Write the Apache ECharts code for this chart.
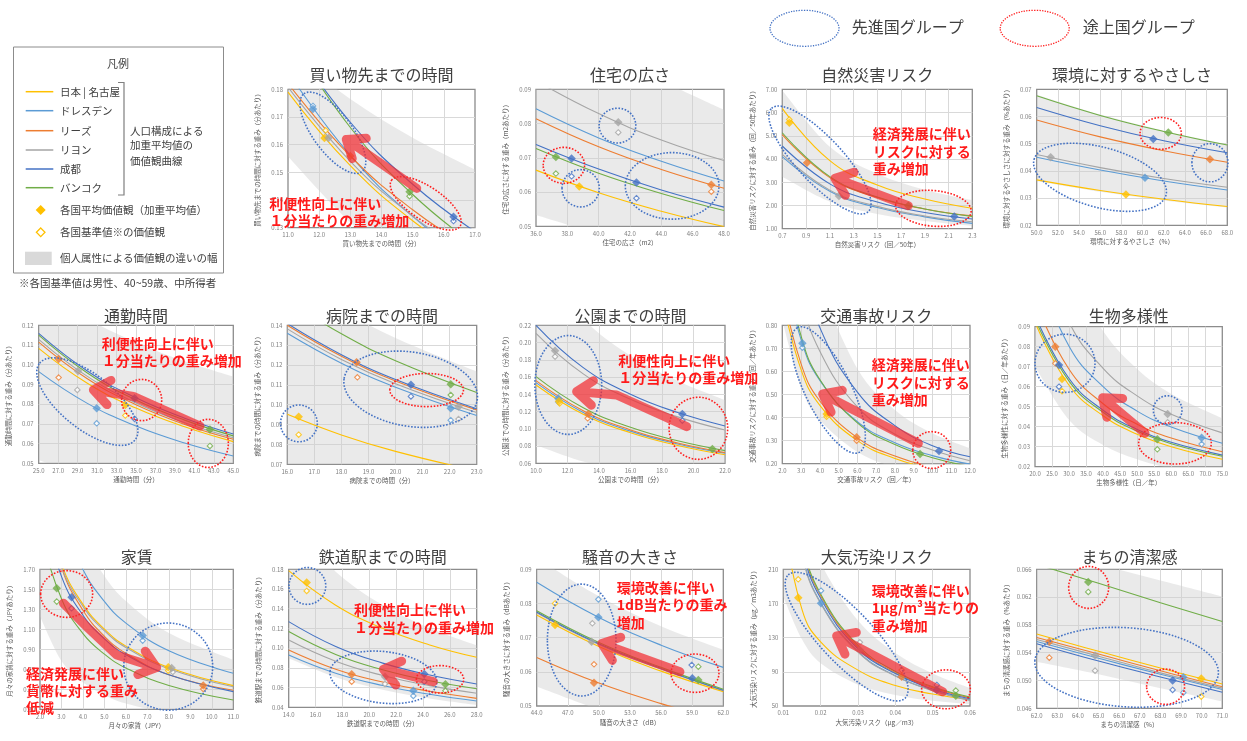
<!DOCTYPE html>
<html><head><meta charset="utf-8">
<script src="https://cdn.jsdelivr.net/npm/echarts@6/dist/echarts.min.js"></script>
<style>html,body{margin:0;padding:0;background:#fff}#c{width:1247px;height:741px}</style>
</head><body><div id="c"></div>
<script>
// ================= DATA =================
const cityNames = ['日本 | 名古屋', 'ドレスデン', 'リーズ', 'リヨン', '成都', 'バンコク'];
// curve order in every panel: 日本|名古屋, ドレスデン, リーズ, リヨン, 成都, バンコク
// points: [x, y, cityIndex]

// --- 買い物先までの時間 ---
const shopText = ['買い物先までの時間', '買い物先までの時間（分）', '買い物先までの時間に対する重み（分あたり）'];
const shopTicks = [11, 17, 1, 1, 0.13, 0.18, 0.01, 2];
const shopX = [11, 13, 15, 17];
const shopCurves = [
  [0.1790, 0.1524, 0.1325, 0.1174],
  [0.1862, 0.1561, 0.1341, 0.1174],
  [0.1821, 0.1559, 0.1365, 0.1215],
  [0.1808, 0.1540, 0.1342, 0.1189],
  [0.1987, 0.1681, 0.1457, 0.1286],
  [0.1996, 0.1662, 0.1420, 0.1237]];
const shopBandHi = [0.194, 0.1765, 0.1625, 0.151];
const shopBandLo = [0.1557, 0.1319, 0.1145, 0.1012];
const shopAvg = [[12.17, 0.1624, 0], [11.80, 0.1729, 1], [13.0, 0.1559, 2], [12.30, 0.1624, 3], [16.31, 0.1340, 4], [14.90, 0.1430, 5]];
const shopBase = [[12.21, 0.1652, 0], [11.80, 0.1740, 1], [16.31, 0.1324, 4], [14.90, 0.1414, 5]];

// --- 住宅の広さ ---
const houseText = ['住宅の広さ', '住宅の広さ（m2）', '住宅の広さに対する重み（m2あたり）'];
const houseTicks = [36, 48, 2, 1, 0.05, 0.09, 0.01, 2];
const houseX = [36, 40, 44, 48];
const houseCurves = [
  [0.0664, 0.0598, 0.0544, 0.0499],
  [0.0843, 0.0758, 0.0690, 0.0632],
  [0.0814, 0.0732, 0.0666, 0.0611],
  [0.0925, 0.0829, 0.0752, 0.0692],
  [0.0739, 0.0667, 0.0606, 0.0556],
  [0.0727, 0.0655, 0.0596, 0.0546]];
const houseBandHi = [0.112, 0.1015, 0.0925, 0.084];
const houseBandLo = [0.0533, 0.0478, 0.0435, 0.040];
const houseAvg = [[37.27, 0.0702, 5], [38.27, 0.0698, 4], [38.76, 0.0616, 0], [41.25, 0.0804, 3], [42.41, 0.0628, 4], [47.19, 0.0621, 2]];
const houseBase = [[37.27, 0.0654, 5], [38.27, 0.0646, 4], [41.25, 0.0774, 3], [42.41, 0.0582, 4], [47.19, 0.0601, 2]];

// --- 自然災害リスク ---
const disasterText = ['自然災害リスク', '自然災害リスク（回／50年）', '自然災害リスクに対する重み（回／50年あたり）'];
const disasterTicks = [0.7, 2.3, 0.2, 1, 1, 7, 1, 2];
const disasterX = [0.7, 1.1, 1.5, 1.9, 2.3];
const disasterCurves = [
  [6.18, 3.93, 2.88, 2.28, 1.88],
  [4.10, 2.61, 1.91, 1.51, 1.23],
  [5.05, 3.20, 2.34, 1.85, 1.55],
  [4.20, 2.66, 1.96, 1.55, 1.30],
  [4.56, 2.93, 2.15, 1.70, 1.42],
  [5.13, 3.24, 2.36, 1.85, 1.53]];
const disasterBandHi = [6.95, 4.53, 3.37, 2.68, 2.23];
const disasterBandLo = [3.24, 2.17, 1.63, 1.33, 1.12];
const disasterAvg = [[0.759, 5.56, 0], [0.908, 3.84, 2], [1.177, 2.41, 3], [1.761, 1.99, 5], [2.148, 1.53, 4]];
const disasterBase = [[0.759, 5.70, 0]];

// --- 環境に対するやさしさ ---
const ecoText = ['環境に対するやさしさ', '環境に対するやさしさ（%）', '環境に対するやさしさに対する重み（%あたり）'];
const ecoTicks = [50, 68, 2, 1, 0.02, 0.07, 0.01, 2];
const ecoX = [50, 56, 62, 68];
const ecoCurves = [
  [0.0367, 0.0328, 0.0296, 0.0269],
  [0.0450, 0.0403, 0.0363, 0.0330],
  [0.0587, 0.0525, 0.0474, 0.0432],
  [0.0460, 0.0412, 0.0372, 0.0340],
  [0.0633, 0.0566, 0.0511, 0.0467],
  [0.0676, 0.0604, 0.0545, 0.0495]];
const ecoBandHi = [0.0680, 0.0607, 0.0548, 0.0498];
const ecoBandLo = [0.0362, 0.0323, 0.0291, 0.0265];
const ecoAvg = [[51.32, 0.0450, 3], [58.43, 0.0313, 0], [60.23, 0.0375, 1], [61.01, 0.0517, 4], [62.43, 0.0541, 5], [66.36, 0.0443, 2]];
const ecoBase = [];

// --- 通勤時間 ---
const commuteText = ['通勤時間', '通勤時間（分）', '通勤時間に対する重み（分あたり）'];
const commuteTicks = [25, 45, 2, 1, 0.05, 0.12, 0.01, 2];
const commuteX = [25, 30, 35, 40, 45];
const commuteCurves = [
  [0.1083, 0.0906, 0.0780, 0.0685, 0.0610],
  [0.0965, 0.0804, 0.0689, 0.0603, 0.0537],
  [0.1115, 0.0929, 0.0797, 0.0697, 0.0622],
  [0.1129, 0.0941, 0.0806, 0.0706, 0.0630],
  [0.1159, 0.0968, 0.0832, 0.0729, 0.0649],
  [0.1150, 0.0958, 0.0821, 0.0719, 0.0639]];
const commuteBandHi = [0.1394, 0.1234, 0.1113, 0.1018, 0.094];
const commuteBandLo = [0.0517, 0.0431, 0.0369, 0.0323, 0.0287];
const commuteAvg = [[27.05, 0.1029, 2], [29.04, 0.0968, 3], [30.96, 0.0779, 1], [33.90, 0.0796, 0], [34.86, 0.0830, 4], [42.60, 0.0672, 5]];
const commuteBase = [[27.05, 0.0935, 2], [28.97, 0.0872, 3], [30.96, 0.0703, 1], [33.90, 0.0742, 0], [34.86, 0.0725, 4], [42.60, 0.0588, 5]];

// --- 病院までの時間 ---
const hospitalText = ['病院までの時間', '病院までの時間（分）', '病院までの時間に対する重み（分あたり）'];
const hospitalTicks = [16, 23, 1, 1, 0.07, 0.14, 0.01, 2];
const hospitalX = [16, 18, 20, 23];
const hospitalCurves = [
  [0.0952, 0.0848, 0.0765, 0.0667],
  [0.1360, 0.1209, 0.1088, 0.0946],
  [0.1400, 0.1244, 0.1120, 0.0974],
  [0.1382, 0.1228, 0.1106, 0.0961],
  [0.1409, 0.1252, 0.1127, 0.0980],
  [0.1527, 0.1357, 0.1222, 0.1062]];
const hospitalBandHi = [0.1667, 0.1480, 0.1336, 0.1167];
const hospitalBandLo = [0.065, 0.058, 0.052, 0.045];
const hospitalAvg = [[16.42, 0.0940, 0], [18.56, 0.1214, 2], [20.57, 0.1100, 4], [22.04, 0.1103, 5], [22.04, 0.0982, 1], [22.33, 0.0990, 3]];
const hospitalBase = [[16.42, 0.0849, 0], [18.59, 0.1138, 2], [20.57, 0.1042, 4], [22.04, 0.1049, 5], [22.04, 0.0922, 1], [22.33, 0.0928, 3]];

// --- 公園までの時間 ---
const parkText = ['公園までの時間', '公園までの時間（分）', '公園までの時間に対する重み（分あたり）'];
const parkTicks = [10, 22, 2, 1, 0.06, 0.22, 0.02, 2];
const parkX = [10, 13, 16, 19, 22];
const parkCurves = [
  [0.1508, 0.1168, 0.0954, 0.0807, 0.0700],
  [0.1535, 0.1190, 0.0973, 0.0824, 0.0716],
  [0.1558, 0.1208, 0.0987, 0.0836, 0.0724],
  [0.2107, 0.1637, 0.1342, 0.1138, 0.0986],
  [0.2200, 0.1709, 0.1401, 0.1188, 0.1033],
  [0.1605, 0.1244, 0.1017, 0.0861, 0.0747]];
const parkBandHi = [0.2955, 0.2273, 0.1847, 0.1555, 0.1334];
const parkBandLo = [0.0812, 0.0620, 0.0510, 0.0430, 0.0370];
const parkAvg = [[11.21, 0.1906, 3], [11.42, 0.1350, 1], [11.46, 0.1318, 0], [13.32, 0.1172, 2], [19.29, 0.1172, 4], [21.20, 0.0766, 5]];
const parkBase = [[11.21, 0.1837, 3], [11.42, 0.1310, 1], [11.50, 0.1295, 0], [13.28, 0.1122, 2], [19.29, 0.1095, 4]];

// --- 交通事故リスク ---
const trafficText = ['交通事故リスク', '交通事故リスク（回／年）', '交通事故リスクに対する重み（回／年あたり）'];
const trafficTicks = [2, 12, 1, 1, 0.2, 0.8, 0.1, 2];
const trafficX = [2, 3, 4, 6, 8, 10, 12];
const trafficCurves = [
  [0.920, 0.608, 0.453, 0.300, 0.223, 0.178, 0.148],
  [1.085, 0.738, 0.561, 0.382, 0.291, 0.235, 0.198],
  [0.957, 0.633, 0.472, 0.312, 0.233, 0.185, 0.154],
  [1.440, 0.934, 0.688, 0.446, 0.328, 0.259, 0.213],
  [1.660, 1.070, 0.790, 0.510, 0.365, 0.278, 0.230],
  [1.130, 0.754, 0.565, 0.377, 0.283, 0.226, 0.188]];
const trafficBandHi = [2.29, 1.41, 0.996, 0.612, 0.433, 0.3315, 0.2665];
const trafficBandLo = [0.82, 0.53, 0.389, 0.251, 0.184, 0.145, 0.12];
const trafficAvg = [[3.07, 0.722, 1], [4.36, 0.4154, 0], [5.96, 0.3142, 2], [9.34, 0.2420, 5], [10.35, 0.2550, 4]];
const trafficBase = [[3.07, 0.703, 1], [4.36, 0.404, 0], [5.96, 0.300, 2]];

// --- 生物多様性 ---
const bioText = ['生物多様性', '生物多様性（日／年）', '生物多様性に対する重み（日／年あたり）'];
const bioTicks = [20, 75, 5, 1, 0.02, 0.09, 0.01, 2];
const bioX = [20, 30, 40, 50, 60, 75];
const bioCurves = [
  [0.0923, 0.0607, 0.0455, 0.0362, 0.0300, 0.0237],
  [0.1215, 0.0802, 0.0600, 0.0478, 0.0398, 0.0317],
  [0.1030, 0.0687, 0.0515, 0.0412, 0.0343, 0.0275],
  [0.1385, 0.0923, 0.0692, 0.0554, 0.0462, 0.0369],
  [0.0957, 0.0641, 0.0482, 0.0386, 0.0322, 0.0258],
  [0.0940, 0.0628, 0.0472, 0.0378, 0.0315, 0.0252]];
const bioBandHi = [0.1868, 0.1202, 0.0878, 0.0688, 0.0564, 0.0442];
const bioBandLo = [0.0700, 0.0434, 0.0309, 0.0237, 0.0191, 0.0147];
const bioAvg = [[25.97, 0.0800, 2], [27.05, 0.0708, 4], [27.93, 0.0638, 0], [55.92, 0.0337, 5], [58.95, 0.0463, 3], [68.93, 0.0345, 1]];
const bioBase = [[25.97, 0.0717, 2], [27.05, 0.0600, 4], [27.93, 0.0578, 0], [55.92, 0.0287, 5], [58.95, 0.0422, 3], [68.93, 0.0313, 1]];

// --- 家賃 ---
const rentText = ['家賃', '月々の家賃（JPY）', '月々の家賃に対する重み（JPYあたり）'];
const rentTicks = [2, 11, 1, 1, 0.3, 1.7, 0.2, 2];
const rentX = [2, 3, 4, 5, 6, 8, 11];
const rentCurves = [
  [2.53, 1.752, 1.349, 1.101, 0.932, 0.717, 0.537],
  [3.24, 2.22, 1.699, 1.378, 1.162, 0.886, 0.66],
  [2.58, 1.72, 1.29, 1.03, 0.86, 0.645, 0.49],
  [2.49, 1.726, 1.329, 1.085, 0.918, 0.706, 0.525],
  [2.39, 1.629, 1.241, 1.005, 0.846, 0.645, 0.477],
  [2.09, 1.405, 1.057, 0.852, 0.713, 0.538, 0.393]];
const rentBandHi = [3.79, 2.61, 2.0, 1.634, 1.383, 1.062, 0.793];
const rentBandLo = [1.227, 0.782, 0.569, 0.444, 0.357, 0.264, 0.185];
const rentAvg = [[2.78, 1.51, 5], [3.47, 1.42, 4], [6.78, 1.037, 1], [7.97, 0.72, 0], [8.13, 0.713, 3], [9.60, 0.537, 2]];
const rentBase = [[2.78, 1.377, 5], [3.47, 1.31, 4], [6.78, 0.987, 1], [7.97, 0.687, 0], [8.18, 0.673, 3], [9.60, 0.503, 2]];

// --- 鉄道駅までの時間 ---
const stationText = ['鉄道駅までの時間', '鉄道駅までの時間（分）', '鉄道駅までの時間に対する重み（分あたり）'];
const stationTicks = [14, 28, 2, 1, 0.04, 0.18, 0.02, 2];
const stationX = [14, 17.5, 21, 24.5, 28];
const stationCurves = [
  [0.1786, 0.1436, 0.1201, 0.1033, 0.0907],
  [0.0931, 0.0746, 0.0621, 0.0532, 0.0464],
  [0.0982, 0.0787, 0.0656, 0.0562, 0.0491],
  [0.1083, 0.0868, 0.0723, 0.0620, 0.0542],
  [0.1269, 0.1017, 0.0848, 0.0727, 0.0637],
  [0.1168, 0.0936, 0.0781, 0.0669, 0.0589]];
const stationBandHi = [0.230, 0.1776, 0.1437, 0.1202, 0.1029];
const stationBandLo = [0.0897, 0.0705, 0.0579, 0.0490, 0.0424];
const stationAvg = [[15.34, 0.1665, 0], [18.69, 0.0735, 2], [21.17, 0.0711, 3], [23.28, 0.0569, 1], [24.10, 0.0738, 4], [25.67, 0.0633, 5]];
const stationBase = [[15.34, 0.158, 0], [18.69, 0.066, 2], [21.17, 0.0637, 3], [23.28, 0.0515, 1], [24.10, 0.066, 4], [25.67, 0.0567, 5]];

// --- 騒音の大きさ ---
const noiseText = ['騒音の大きさ', '騒音の大きさ（dB）', '騒音の大きさに対する重み（dBあたり）'];
const noiseTicks = [44, 62, 3, 1, 0.05, 0.09, 0.01, 2];
const noiseX = [44, 50, 56, 62];
const noiseCurves = [
  [0.0766, 0.0674, 0.0602, 0.0542],
  [0.0862, 0.0759, 0.0678, 0.0613],
  [0.0642, 0.0567, 0.0507, 0.0457],
  [0.0773, 0.0680, 0.0608, 0.0545],
  [0.0775, 0.0682, 0.0610, 0.0546],
  [0.0779, 0.0686, 0.0613, 0.0549]];
const noiseBandHi = [0.0933, 0.0821, 0.0733, 0.0664];
const noiseBandLo = [0.0557, 0.0490, 0.0438, 0.0396];
const noiseAvg = [[45.77, 0.0737, 0], [49.30, 0.0688, 3], [49.53, 0.0568, 2], [49.95, 0.0760, 1], [59.01, 0.0581, 4], [59.59, 0.0576, 5]];
const noiseBase = [[45.77, 0.0800, 0], [49.37, 0.0742, 3], [49.53, 0.0622, 2], [49.95, 0.0812, 1], [58.95, 0.0620, 4], [59.59, 0.0615, 5]];

// --- 大気汚染リスク ---
const airText = ['大気汚染リスク', '大気汚染リスク（μg／m3）', '大気汚染リスクに対する重み（μg／m3あたり）'];
const airTicks = [0.01, 0.06, 0.01, 2, 50, 210, 40, 0];
const airX = [0.01, 0.015, 0.02, 0.03, 0.04, 0.05, 0.06];
const airCurves = [
  [270, 163, 125, 92, 74, 64, 57.5],
  [342, 228, 171, 114, 85.5, 68.5, 57],
  [357, 238, 179, 119, 89, 71.5, 59.5],
  [340, 226, 170, 113, 85, 68, 56.5],
  [352, 235, 176, 117, 88, 70, 58.5],
  [362, 242, 181, 121, 90.5, 72.5, 60.5]];
const airBandHi = [430, 290, 218, 150, 112, 88, 71];
const airBandLo = [178, 128, 100, 75, 63, 56, 52];
const airAvg = [[0.0140, 176.8, 0], [0.0201, 170.2, 1], [0.0305, 115.6, 3], [0.0417, 84.3, 2], [0.0511, 68.7, 4], [0.0562, 62.1, 5]];
const airBase = [[0.0140, 198.3, 0], [0.0201, 185, 1], [0.0305, 124.5, 3], [0.0417, 92.1, 2], [0.0511, 74.6, 4], [0.0562, 68, 5]];

// --- まちの清潔感 ---
const cleanText = ['まちの清潔感', 'まちの清潔感（%）', 'まちの清潔感に対する重み（%あたり）'];
const cleanTicks = [62, 71, 1, 1, 0.046, 0.066, 0.004, 3];
const cleanX = [62, 65, 68, 71];
const cleanCurves = [
  [0.0567, 0.0542, 0.0518, 0.0495],
  [0.0556, 0.0532, 0.0509, 0.0487],
  [0.0562, 0.0538, 0.0514, 0.0491],
  [0.0559, 0.0535, 0.0511, 0.0489],
  [0.0553, 0.0528, 0.0505, 0.0483],
  [0.0667, 0.0640, 0.0612, 0.0585]];
const cleanBandHi = [0.0689, 0.0667, 0.0644, 0.0621];
const cleanBandLo = [0.0527, 0.0509, 0.0489, 0.0470];
const cleanAvg = [[62.61, 0.05559, 2], [64.50, 0.06418, 5], [64.83, 0.05358, 3], [68.59, 0.0500, 4], [69.11, 0.05046, 1], [69.98, 0.05027, 0]];
const cleanBase = [[62.61, 0.05329, 2], [64.50, 0.06274, 5], [64.83, 0.05142, 3], [68.59, 0.04864, 4], [69.11, 0.04825, 1], [69.98, 0.04768, 0]];

// ================= ANNOTATIONS (in data units) =================
// rings: [cx, cy, axisEndX, axisEndY, ratio, group('b' 先進国 / 'r' 途上国)]
const shopRings = [[12.44, 0.1643, 13.37, 0.1502, 0.40, 'b'], [15.42, 0.1388, 16.52, 0.1305, 0.40, 'r']];
const houseRings = [[41.2, 0.0794, 42.37, 0.0794, 0.95, 'b'], [37.78, 0.0678, 39.1, 0.0678, 0.87, 'r'], [38.85, 0.0611, 40.04, 0.0611, 1.0, 'b'], [44.69, 0.0618, 47.68, 0.0618, 0.71, 'b']];
const disasterRings = [[1.017, 3.957, 1.424, 1.732, 0.32, 'b'], [1.972, 1.876, 2.29, 1.73, 0.47, 'r']];
const ecoRings = [[61.71, 0.0538, 63.66, 0.0538, 0.77, 'r'], [55.98, 0.03765, 62.21, 0.0311, 0.44, 'b'], [66.36, 0.0430, 68.06, 0.0430, 1.06, 'b']];
const commuteRings = [[30.0, 0.0813, 34.9, 0.0618, 0.44, 'b'], [35.58, 0.0821, 37.64, 0.0821, 1.03, 'r'], [42.43, 0.0601, 44.49, 0.0601, 1.2, 'r']];
const hospitalRings = [[16.43, 0.0906, 17.11, 0.0906, 1.0, 'b'], [20.56, 0.1078, 23.02, 0.1024, 0.55, 'b'], [21.15, 0.1074, 22.51, 0.1074, 0.45, 'r']];
const parkRings = [[12.05, 0.1508, 14.17, 0.1508, 1.48, 'b'], [20.31, 0.1006, 22.17, 0.1006, 1.06, 'r']];
const trafficRings = [[4.45, 0.5195, 6.09, 0.249, 0.33, 'b'], [9.96, 0.2593, 10.97, 0.2593, 0.97, 'r']];
const bioRings = [[28.81, 0.0717, 37.62, 0.0717, 0.97, 'b'], [58.95, 0.0483, 63.16, 0.0483, 1.0, 'b'], [61.1, 0.0317, 71.77, 0.0317, 0.57, 'r']];
const rentRings = [[3.24, 1.453, 4.45, 1.453, 0.9, 'r'], [7.97, 0.727, 10.04, 0.727, 0.98, 'b']];
const stationRings = [[15.39, 0.1631, 16.76, 0.1631, 1.0, 'b'], [21.05, 0.0704, 25.02, 0.0644, 0.48, 'b'], [25.27, 0.0684, 27.03, 0.0684, 0.58, 'r']];
const noiseRings = [[48.34, 0.0693, 51.65, 0.0693, 1.63, 'b'], [59.27, 0.0596, 61.58, 0.0596, 0.8, 'r']];
const airRings = [[0.02696, 131.2, 0.04259, 58.97, 0.31, 'b'], [0.05357, 69.5, 0.06009, 69.5, 0.8, 'r']];
const cleanRings = [[64.52, 0.0634, 65.49, 0.0634, 1.05, 'r'], [66.36, 0.0519, 70.81, 0.0510, 0.43, 'b'], [68.25, 0.0491, 69.17, 0.0491, 0.93, 'r']];
// arrows: tail ... tip
const shopArrows = [[[15.13, 0.1442], [12.87, 0.1619]]];
const disasterArrows = [[[1.761, 1.99], [1.143, 3.17]]];
const commuteArrows = [[[41.58, 0.0689], [34.73, 0.0839], [30.62, 0.0872]]];
const parkArrows = [[[19.57, 0.1025], [15.12, 0.1392], [12.58, 0.1431]]];
const trafficArrows = [[[9.25, 0.2882], [4.15, 0.5022]]];
const bioArrows = [[[52.3, 0.0367], [39.87, 0.0545]]];
const rentArrows = [[[3.09, 1.36], [4.25, 1.11], [5.57, 0.843], [7.43, 0.717]]];
const stationArrows = [[[24.77, 0.066], [21.05, 0.0786]]];
const noiseArrows = [[[57.82, 0.0600], [50.27, 0.0683]]];
const airArrows = [[[0.05268, 66.8], [0.02429, 132]]];
// notes: [x, y(top-left), text]
const shopNotes = [[10.40, 0.1419, '利便性向上に伴い\n１分当たりの重み増加']];
const disasterNotes = [[1.461, 5.443, '経済発展に伴い\nリスクに対する\n重み増加']];
const commuteNotes = [[31.47, 0.1152, '利便性向上に伴い\n１分当たりの重み増加']];
const parkNotes = [[15.23, 0.1889, '利便性向上に伴い\n１分当たりの重み増加']];
const trafficNotes = [[6.76, 0.6648, '経済発展に伴い\nリスクに対する\n重み増加']];
const rentNotes = [[1.35, 0.745, '経済発展に伴い\n貨幣に対する重み\n低減']];
const stationNotes = [[18.86, 0.1474, '利便性向上に伴い\n１分当たりの重み増加']];
const noiseNotes = [[51.71, 0.0871, '環境改善に伴い\n1dB当たりの重み\n増加']];
const airNotes = [[0.03366, 195.0, '環境改善に伴い\n1μg/m³当たりの\n重み増加']];

// ================= LAYOUT / STYLE =================
const FONT = '"Noto Sans CJK JP", "Noto Sans", sans-serif';
const COLORS = ['#FFC000', '#5B9BD5', '#ED7D31', '#A5A5A5', '#4472C4', '#70AD47'];
const BLUE = '#4472C4', RED = '#FF1F1F';
const GRIDS = [
  [288, 89.3, 187, 138.4], [536, 89.3, 188, 137], [782.3, 89.3, 190, 139.4], [1036.7, 89.3, 190.6, 136],
  [38.7, 325.3, 194.6, 138], [287.3, 325.3, 189.4, 139], [536, 325.3, 189, 138], [782.3, 325.3, 187.7, 138.4], [1035, 326.7, 187.3, 140],
  [40, 569.3, 193.3, 140], [288.7, 569.3, 188, 138], [536.7, 569.3, 186.6, 136.7], [783.3, 569.3, 186.7, 136.7], [1036.7, 569.3, 185.6, 139]];
const TITLE_Y = [75, 75, 75, 75, 315.5, 315.5, 315.5, 315.5, 315.5, 556.5, 556.5, 556.5, 556.5, 556.5];

const panels = [
  {t: shopText, k: shopTicks, x: shopX, c: shopCurves, hi: shopBandHi, lo: shopBandLo, avg: shopAvg, base: shopBase, rings: shopRings, arrows: shopArrows, notes: shopNotes},
  {t: houseText, k: houseTicks, x: houseX, c: houseCurves, hi: houseBandHi, lo: houseBandLo, avg: houseAvg, base: houseBase, rings: houseRings},
  {t: disasterText, k: disasterTicks, x: disasterX, c: disasterCurves, hi: disasterBandHi, lo: disasterBandLo, avg: disasterAvg, base: disasterBase, rings: disasterRings, arrows: disasterArrows, notes: disasterNotes},
  {t: ecoText, k: ecoTicks, x: ecoX, c: ecoCurves, hi: ecoBandHi, lo: ecoBandLo, avg: ecoAvg, base: ecoBase, rings: ecoRings},
  {t: commuteText, k: commuteTicks, x: commuteX, c: commuteCurves, hi: commuteBandHi, lo: commuteBandLo, avg: commuteAvg, base: commuteBase, rings: commuteRings, arrows: commuteArrows, notes: commuteNotes},
  {t: hospitalText, k: hospitalTicks, x: hospitalX, c: hospitalCurves, hi: hospitalBandHi, lo: hospitalBandLo, avg: hospitalAvg, base: hospitalBase, rings: hospitalRings},
  {t: parkText, k: parkTicks, x: parkX, c: parkCurves, hi: parkBandHi, lo: parkBandLo, avg: parkAvg, base: parkBase, rings: parkRings, arrows: parkArrows, notes: parkNotes},
  {t: trafficText, k: trafficTicks, x: trafficX, c: trafficCurves, hi: trafficBandHi, lo: trafficBandLo, avg: trafficAvg, base: trafficBase, rings: trafficRings, arrows: trafficArrows, notes: trafficNotes},
  {t: bioText, k: bioTicks, x: bioX, c: bioCurves, hi: bioBandHi, lo: bioBandLo, avg: bioAvg, base: bioBase, rings: bioRings, arrows: bioArrows},
  {t: rentText, k: rentTicks, x: rentX, c: rentCurves, hi: rentBandHi, lo: rentBandLo, avg: rentAvg, base: rentBase, rings: rentRings, arrows: rentArrows, notes: rentNotes},
  {t: stationText, k: stationTicks, x: stationX, c: stationCurves, hi: stationBandHi, lo: stationBandLo, avg: stationAvg, base: stationBase, rings: stationRings, arrows: stationArrows, notes: stationNotes},
  {t: noiseText, k: noiseTicks, x: noiseX, c: noiseCurves, hi: noiseBandHi, lo: noiseBandLo, avg: noiseAvg, base: noiseBase, rings: noiseRings, arrows: noiseArrows, notes: noiseNotes},
  {t: airText, k: airTicks, x: airX, c: airCurves, hi: airBandHi, lo: airBandLo, avg: airAvg, base: airBase, rings: airRings, arrows: airArrows, notes: airNotes},
  {t: cleanText, k: cleanTicks, x: cleanX, c: cleanCurves, hi: cleanBandHi, lo: cleanBandLo, avg: cleanAvg, base: cleanBase, rings: cleanRings}];

// smooth path (Catmull-Rom -> cubic Bezier) through already-projected pixel points
const fmt = q => q[0].toFixed(2) + ' ' + q[1].toFixed(2);
function splineSegs(P) {
  let d = '';
  for (let i = 0; i < P.length - 1; i++) {
    const p0 = P[i - 1] || P[i], p1 = P[i], p2 = P[i + 1], p3 = P[i + 2] || P[i + 1];
    const c1 = [p1[0] + (p2[0] - p0[0]) / 6, p1[1] + (p2[1] - p0[1]) / 6];
    const c2 = [p2[0] - (p3[0] - p1[0]) / 6, p2[1] - (p3[1] - p1[1]) / 6];
    d += ' C' + fmt(c1) + ' ' + fmt(c2) + ' ' + fmt(p2);
  }
  return d;
}

const grid = [], xAxis = [], yAxis = [], series = [], graphic = [];

panels.forEach((p, i) => {
  const g = GRIDS[i], k = p.k;
  grid.push({left: g[0], top: g[1], width: g[2], height: g[3], show: true, backgroundColor: '#fff', borderColor: '#8c8c8c', borderWidth: 1.3, containLabel: false});
  const common = {
    gridIndex: i, type: 'value', axisLine: {show: false}, axisTick: {show: false},
    splitLine: {show: true, showMinLine: false, showMaxLine: false, lineStyle: {color: '#d9d9d9', width: 1}},
    nameLocation: 'middle', nameTextStyle: {fontSize: 6.5, color: '#595959', fontFamily: FONT}
  };
  xAxis.push(Object.assign({}, common, {
    min: k[0], max: k[1], interval: k[2], name: p.t[1], nameGap: 13,
    axisLabel: {fontSize: 6, color: '#7f7f7f', margin: 4, fontFamily: FONT, showMinLabel: true, showMaxLabel: true, formatter: v => (+v).toFixed(k[3])}
  }));
  yAxis.push(Object.assign({}, common, {
    min: k[4], max: k[5], interval: k[6], name: p.t[2], nameGap: 27,
    axisLabel: {fontSize: 6, color: '#7f7f7f', margin: 5, fontFamily: FONT, showMinLabel: true, showMaxLabel: true, formatter: v => (+v).toFixed(k[7])}
  }));
  graphic.push({type: 'text', x: g[0] + g[2] / 2, y: TITLE_Y[i], z: 10,
    style: {text: p.t[0], fill: '#404040', fontSize: 16, fontFamily: FONT, align: 'center', verticalAlign: 'middle', textAlign: 'center', textVerticalAlign: 'middle'}});

  const ax = {xAxisIndex: i, yAxisIndex: i, silent: true, animation: false};
  // band of individual attributes (area between upper and lower boundary)
  series.push(Object.assign({type: 'custom', z: 1, clip: true, data: [[p.x[0], p.lo[0]]],
    renderItem: (params, api) => {
      const H = p.x.map((x, j) => api.coord([x, p.hi[j]]));
      const L = p.x.map((x, j) => api.coord([x, p.lo[j]])).reverse();
      const d = 'M' + fmt(H[0]) + splineSegs(H) + ' L' + fmt(L[0]) + splineSegs(L) + ' Z';
      const cs = params.coordSys;
      return {type: 'group', clipPath: {type: 'rect', shape: {x: cs.x, y: cs.y, width: cs.width, height: cs.height}},
        children: [{type: 'path', shape: {pathData: d}, style: {fill: 'rgba(205,205,205,0.42)', stroke: null}}]};
    }}, ax));
  // value curves per city
  p.c.forEach((ys, ci) => {
    series.push(Object.assign({type: 'line', name: cityNames[ci], data: p.x.map((x, j) => [x, ys[j]]), symbol: 'none',
      smooth: 0.45, lineStyle: {color: COLORS[ci], width: 1.1}, z: 3}, ax));
  });
  // baseline values (hollow)
  series.push(Object.assign({type: 'scatter', symbol: 'diamond', symbolSize: 5.5, z: 4,
    data: p.base.map(d => ({value: [d[0], d[1]], itemStyle: {color: '#fff', borderColor: COLORS[d[2]], borderWidth: 1.1}}))}, ax));
  // weighted average values (filled)
  series.push(Object.assign({type: 'scatter', symbol: 'diamond', symbolSize: 8.5, z: 5,
    data: p.avg.map(d => ({value: [d[0], d[1]], itemStyle: {color: COLORS[d[2]]}}))}, ax));
  // group rings
  if (p.rings) {
    const rings = p.rings;
    series.push(Object.assign({type: 'custom', z: 6, clip: false, data: rings.map(r => [r[0], r[1]]),
      renderItem: (params, api) => {
        const r = rings[params.dataIndex];
        const c = api.coord([r[0], r[1]]), e = api.coord([r[2], r[3]]);
        const dx = e[0] - c[0], dy = e[1] - c[1], a = Math.hypot(dx, dy);
        return {type: 'ellipse', x: c[0], y: c[1], rotation: Math.atan2(-dy, dx),
          shape: {cx: 0, cy: 0, rx: a, ry: a * r[4]},
          style: {fill: 'none', stroke: r[5] === 'r' ? RED : BLUE, lineWidth: 1.6, lineDash: [1.6, 1.6]}};
      }}, ax));
  }
  if (p.arrows) {
    const arrows = p.arrows;
    series.push(Object.assign({type: 'custom', z: 7, clip: false, data: arrows.map(a => a[0]),
      renderItem: (params, api) => {
        const pts = arrows[params.dataIndex].map(q => api.coord(q));
        const tip = pts[pts.length - 1], prev = pts[pts.length - 2];
        const ang = Math.atan2(prev[1] - tip[1], prev[0] - tip[0]);
        const Lw = 20, s = 0.66;
        const w1 = [tip[0] + Lw * Math.cos(ang + s), tip[1] + Lw * Math.sin(ang + s)];
        const w2 = [tip[0] + Lw * Math.cos(ang - s), tip[1] + Lw * Math.sin(ang - s)];
        const d = 'M' + pts.map(fmt).join(' L') + ' M' + fmt(w1) + ' L' + fmt(tip) + ' L' + fmt(w2);
        return {type: 'path', shape: {pathData: d},
          style: {fill: 'none', stroke: 'rgba(243,45,50,0.72)', lineWidth: 9, lineCap: 'round', lineJoin: 'round'}};
      }}, ax));
  }
  if (p.notes) {
    const notes = p.notes;
    series.push(Object.assign({type: 'custom', z: 8, clip: false, data: notes.map(n => [n[0], n[1]]),
      renderItem: (params, api) => {
        const n = notes[params.dataIndex];
        const c = api.coord([n[0], n[1]]);
        return {type: 'text', x: c[0], y: c[1],
          style: {text: n[2], fill: '#FF1A1A', fontSize: 14, fontWeight: 'bold', fontFamily: FONT, lineHeight: 17.3,
            align: 'left', verticalAlign: 'top', textAlign: 'left', textVerticalAlign: 'top'}};
      }}, ax));
  }
});

// ---------- legend box (凡例) ----------
const TXT = (text, x, y, size, extra) => Object.assign({type: 'text', x: x, y: y, z: 20,
  style: Object.assign({text: text, fill: '#404040', fontSize: size, fontFamily: FONT, align: 'left', verticalAlign: 'middle', textAlign: 'left', textVerticalAlign: 'middle'}, extra || {})});
graphic.push({type: 'rect', z: 19, shape: {x: 13.5, y: 47, width: 210, height: 226}, style: {fill: '#fff', stroke: '#8c8c8c', lineWidth: 1}});
graphic.push(TXT('凡例', 118, 63.5, 11, {align: 'center', textAlign: 'center'}));
const LEG_Y = [91.7, 110.7, 130.7, 150, 169, 187.7];
cityNames.forEach((n, i) => {
  graphic.push({type: 'line', z: 20, shape: {x1: 25.7, y1: LEG_Y[i], x2: 53.3, y2: LEG_Y[i]}, style: {stroke: COLORS[i], lineWidth: 1.5}});
  graphic.push(TXT(n, 60, LEG_Y[i], 10.5));
});
graphic.push({type: 'polyline', z: 20, shape: {points: [[118, 82.5], [124, 82.5], [124, 195], [118, 195]]}, style: {fill: 'none', stroke: '#7f7f7f', lineWidth: 1.2}});
graphic.push(TXT('人口構成による', 130, 130.7, 10.5));
graphic.push(TXT('加重平均値の', 130, 145.5, 10.5));
graphic.push(TXT('価値観曲線', 130, 161, 10.5));
graphic.push({type: 'polygon', z: 20, shape: {points: [[40.7, 205], [45.7, 210], [40.7, 215], [35.7, 210]]}, style: {fill: '#FFC000'}});
graphic.push(TXT('各国平均価値観（加重平均値）', 60, 210, 10.5));
graphic.push({type: 'polygon', z: 20, shape: {points: [[40.7, 228], [45, 232.3], [40.7, 236.6], [36.4, 232.3]]}, style: {fill: '#fff', stroke: '#FFC000', lineWidth: 1.3}});
graphic.push(TXT('各国基準値※の価値観', 60, 232.3, 10.5));
graphic.push({type: 'rect', z: 20, shape: {x: 25, y: 251.7, width: 26.7, height: 13.3}, style: {fill: '#d9d9d9'}});
graphic.push(TXT('個人属性による価値観の違いの幅', 60, 258.3, 10.5));
graphic.push(TXT('※各国基準値は男性、40~59歳、中所得者', 19, 283.5, 10.5));

// ---------- group legend (top right) ----------
graphic.push({type: 'ellipse', z: 20, shape: {cx: 804.5, cy: 28.3, rx: 34.5, ry: 18}, style: {fill: 'none', stroke: BLUE, lineWidth: 1.3, lineDash: [1.3, 1.3]}});
graphic.push(TXT('先進国グループ', 851.7, 27, 16));
graphic.push({type: 'ellipse', z: 20, shape: {cx: 1034.7, cy: 28.3, rx: 34.5, ry: 18}, style: {fill: 'none', stroke: RED, lineWidth: 1.3, lineDash: [1.3, 1.3]}});
graphic.push(TXT('途上国グループ', 1082.7, 27, 16));

const chart = echarts.init(document.getElementById('c'), null, {renderer: 'canvas'});
chart.setOption({
  animation: false,
  backgroundColor: '#fff',
  textStyle: {fontFamily: FONT},
  grid: grid, xAxis: xAxis, yAxis: yAxis, series: series, graphic: graphic
});
</script></body></html>
